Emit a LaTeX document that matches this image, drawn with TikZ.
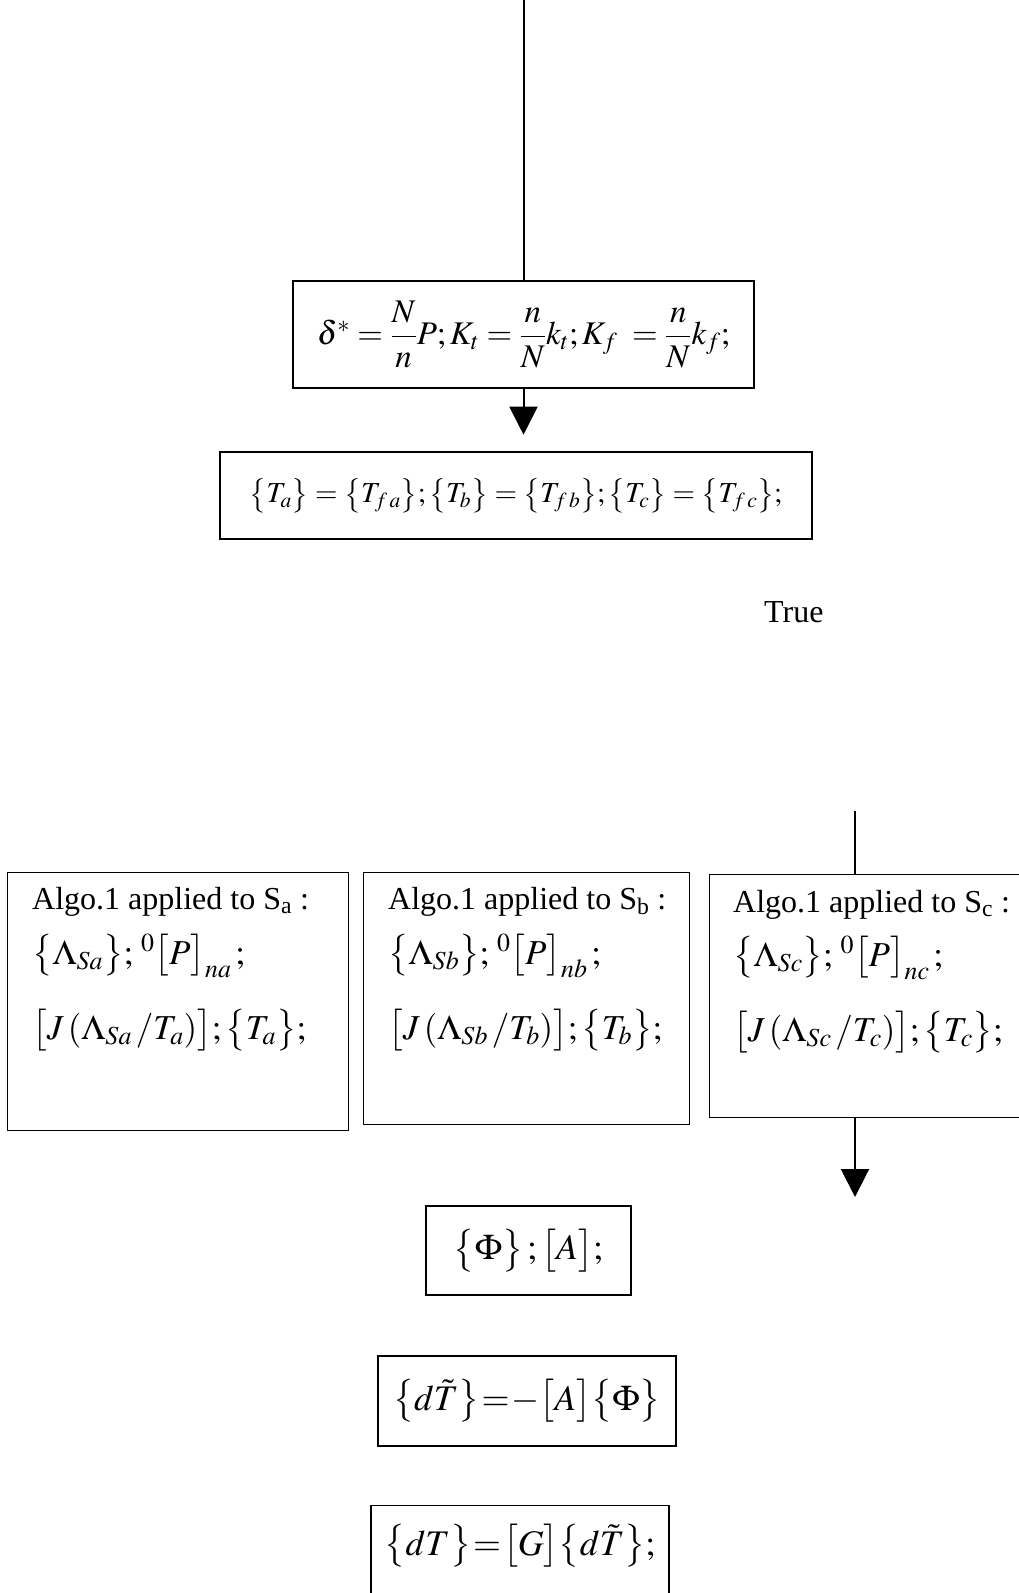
\documentclass[tikz,border=0pt]{standalone}
\usepackage{amsmath}
\usepackage{mathptmx}
\usepackage[no-math]{fontspec}
\setmainfont{Liberation Serif}
\usetikzlibrary{arrows.meta,calc}
\newcommand\fsz[1]{\fontsize{#1}{#1}\selectfont}
\newcommand\lowfont{\fsz{36}\thickmuskip=1mu\relax}
\begin{document}
\begin{tikzpicture}[x=1pt,y=-1pt,
  box/.style={draw, line width=1.4pt, inner sep=0pt},
  conn/.style={line width=2pt},
  arr/.style={conn, -{Triangle[width=28pt,length=28pt]}},
  txt/.style={anchor=base west, inner sep=0pt, font=\fsz{32}},
  mth/.style={anchor=base west, inner sep=0pt, font=\fsz{35}},
  low/.style={font=\lowfont}]
\useasboundingbox (0,0) rectangle (1019,1593);
\clip (0,0) rectangle (1019,1593);

% top formula box
\node[box, minimum width=461pt, minimum height=107pt, font=\fsz{33}] (b1) at (523.5,334.5)
  {$\delta^{*}=\dfrac{N}{n}P;K_{t}=\dfrac{n}{N}k_{t};K_{f}\;=\dfrac{n}{N}k_{f};$};
\coordinate (top) at (b1.north |- 0,0);
\draw[conn] (top) -- (b1.north);
\coordinate (a1end) at ($(b1.south)+(0,46)$);
\draw[arr] (b1.south) -- (a1end);

% second box
\node[box, minimum width=592pt, minimum height=87pt, font=\fsz{29}] (b2) at (516,495.5)
  {$\bigl\{T_{a}\bigr\}=\bigl\{T_{f\,a}\bigr\};\bigl\{T_{b}\bigr\}=\bigl\{T_{f\,b}\bigr\};\bigl\{T_{c}\bigr\}=\bigl\{T_{f\,c}\bigr\};$};

\node[txt] (true) at (764,622) {True};

% three algo boxes
\node[box, anchor=north west, minimum width=341pt, minimum height=258pt] (sa) at (7,872) {};
\node[box, anchor=north west, minimum width=326pt, minimum height=252pt] (sb) at (363,872) {};
\node[box, anchor=north west, minimum width=330pt, minimum height=243pt] (sc) at (709,874) {};

\node[txt] (sa1) at (32,909) {Algo.1 applied to S\textsubscript{a} :};
\node[mth] (sa2) at (32,964) {$\bigl\{\Lambda_{Sa}\bigr\};\,{}^{0}\bigl[P\bigr]_{na}\,;$};
\node[mth] (sa3) at (32,1039) {$\bigl[J\,(\Lambda_{Sa}\,/T_{a})\bigr];\bigl\{T_{a}\bigr\};$};

\node[txt] (sb1) at (388,909) {Algo.1 applied to S\textsubscript{b} :};
\node[mth] (sb2) at (388,964) {$\bigl\{\Lambda_{Sb}\bigr\};\,{}^{0}\bigl[P\bigr]_{nb}\,;$};
\node[mth] (sb3) at (388,1039) {$\bigl[J\,(\Lambda_{Sb}\,/T_{b})\bigr];\bigl\{T_{b}\bigr\};$};

\node[txt] (sc1) at (733,912) {Algo.1 applied to S\textsubscript{c} :};
\node[mth] (sc2) at (733,966) {$\bigl\{\Lambda_{Sc}\bigr\};\,{}^{0}\bigl[P\bigr]_{nc}\,;$};
\node[mth] (sc3) at (733,1041) {$\bigl[J\,(\Lambda_{Sc}\,/T_{c})\bigr];\bigl\{T_{c}\bigr\};$};

\coordinate (cin) at (855,811);
\draw[conn] (cin) -- (cin |- sc.north);
\coordinate (cend) at (855,1197);
\draw[arr] (cend |- sc.south) -- (cend);

% lower boxes
\node[box, low, minimum width=205pt, minimum height=89pt] (phi) at (528.5,1250.5)
  {$\bigl\{\Phi\bigr\}\,;\bigl[A\bigr];$};
\node[box, low, minimum width=298pt, minimum height=90pt] (dtt) at (527,1401)
  {$\bigl\{d\tilde{T}\bigr\}=-\bigl[A\bigr]\bigl\{\Phi\bigr\}$};
\node[box, anchor=north, minimum width=298pt, minimum height=150pt] (dt) at (520,1505) {};
\node[low, inner sep=0pt] (dttxt) at (520,1546)
  {$\bigl\{dT\bigr\}=\bigl[G\bigr]\bigl\{d\tilde{T}\bigr\};$};
\end{tikzpicture}
\end{document}
